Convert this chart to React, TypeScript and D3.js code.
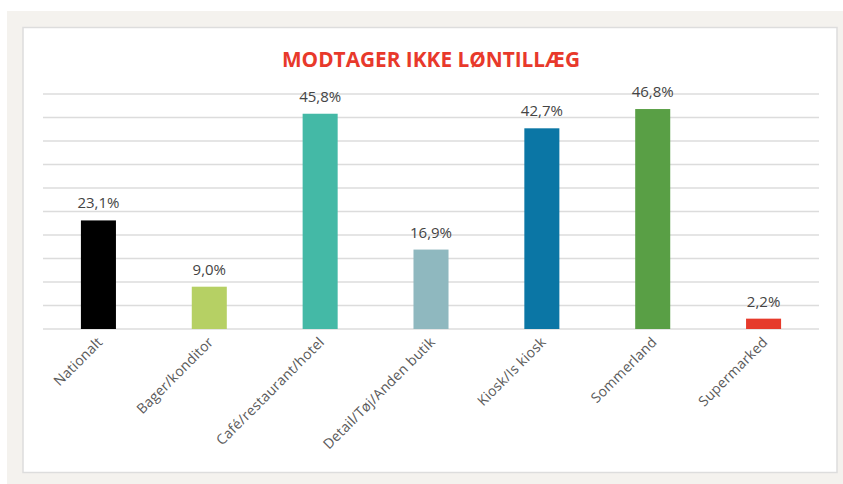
import React from "react";
import * as d3 from "d3";

const categories = [
  "Nationalt",
  "Bager/konditor",
  "Café/restaurant/hotel",
  "Detail/Tøj/Anden butik",
  "Kiosk/Is kiosk",
  "Sommerland",
  "Supermarked",
];
const values = [23.1, 9.0, 45.8, 16.9, 42.7, 46.8, 2.2];
const colors = ["#000000", "#b6d064", "#44b9a6", "#8fb8bf", "#0b76a5", "#599f45", "#e63a2b"];
const gridTicks = [0, 5, 10, 15, 20, 25, 30, 35, 40, 45, 50];
const title = "MODTAGER IKKE LØNTILLÆG";

export default function App() {
  const W = 843;
  const H = 484;
  const x = d3.scaleBand<string>().domain(categories).range([43, 819]).paddingInner(0.684).paddingOuter(0.342);
  const y = d3.scaleLinear().domain([0, 50]).range([329, 94]);
  const fmt = (v: number) => v.toFixed(1).replace(".", ",") + "%";
  const font = "'Open Sans', 'DejaVu Sans', sans-serif";
  return (
    <svg width={W} height={H} style={{ position: "absolute", left: 0, top: 0 }}>
      <rect x={0} y={0} width={W} height={H} fill="#ffffff" />
      <rect x={7} y={11} width={836} height={473} fill="#f4f2ee" />
      <rect x={23} y={27.5} width={814} height={445} fill="#ffffff" stroke="#dddddd" strokeWidth={1.5} />
      <text
        x={431}
        y={67}
        textAnchor="middle"
        fill="#e8392b"
        fontFamily={font}
        fontWeight={700}
        fontSize={21}
        textLength={298}
        lengthAdjust="spacingAndGlyphs"
      >
        {title}
      </text>
      {gridTicks.map((t) => (
        <line key={t} x1={43} x2={819} y1={y(t)} y2={y(t)} stroke="#dcdcdc" strokeWidth={1.5} />
      ))}
      {categories.map((c, i) => {
        const bx = x(c) as number;
        const bw = x.bandwidth();
        const cx = bx + bw / 2;
        return (
          <g key={c}>
            <rect x={bx} y={y(values[i])} width={bw} height={y(0) - y(values[i])} fill={colors[i]} />
            <text
              x={cx}
              y={y(values[i]) - 12}
              textAnchor="middle"
              fill="#444444"
              fontFamily={font}
              fontSize={15}
            >
              {fmt(values[i])}
            </text>
            <text
              transform={`translate(${cx + 5},${343}) rotate(-45)`}
              textAnchor="end"
              fill="#5a5a5a"
              fontFamily={font}
              fontSize={14}
              letterSpacing={0.2}
            >
              {c}
            </text>
          </g>
        );
      })}
    </svg>
  );
}
